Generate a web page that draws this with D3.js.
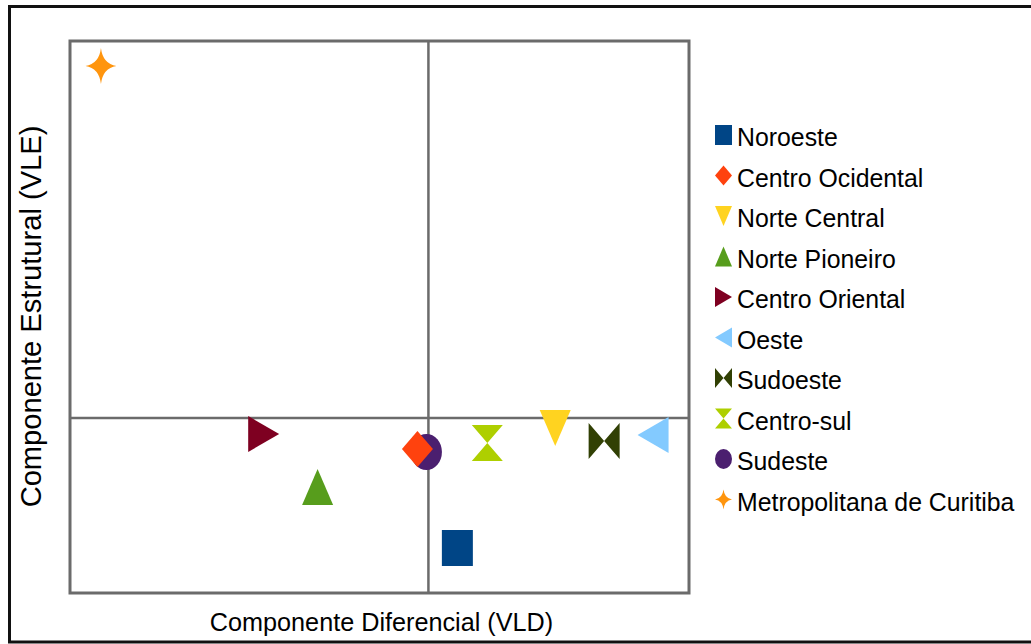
<!DOCTYPE html>
<html>
<head>
<meta charset="utf-8">
<script src="https://cdn.jsdelivr.net/npm/d3@7"></script>
<style>
  body { margin: 0; background: #fff; }
  svg { display: block; font-family: "Liberation Sans", Arial, sans-serif; }
</style>
</head>
<body>
<svg class="chart" width="1031" height="644"></svg>
<script>
// regions of Parana, in legend order
var regions = ["Noroeste", "Centro Ocidental", "Norte Central", "Norte Pioneiro", "Centro Oriental",
               "Oeste", "Sudoeste", "Centro-sul", "Sudeste", "Metropolitana de Curitiba"];
// componente diferencial (VLD) - x
var vld = [0.29, -0.11, 1.27, -1.11, -1.65, 2.25, 1.76, 0.59, -0.02, -3.28];
// componente estrutural (VLE) - y
var vle = [-1.30, -0.31, -0.10, -0.69, -0.16, -0.17, -0.23, -0.25, -0.34, 3.52];

// LibreOffice default palette + symbol for each series
var colors = ["#004586", "#ff420e", "#ffd320", "#579d1c", "#7e0021",
              "#83caff", "#314004", "#aecf00", "#4b1f6f", "#ff950e"];
var shapes = ["square", "diamond", "down", "up", "right", "left", "bowtie", "hourglass", "circle", "star"];

var svg = d3.select("svg.chart");

var plot = { left: 70, right: 689, top: 41, bottom: 593 };

var x = d3.scaleLinear().domain([-3.59, 2.61]).range([plot.left, plot.right]);
var y = d3.scaleLinear().domain([-1.75, 3.77]).range([plot.bottom, plot.top]);

// outer frame (right side runs off the picture)
svg.append("path")
  .attr("d", "M1031,6.5H9.5V642H1031")
  .attr("fill", "none").attr("stroke", "#111").attr("stroke-width", 3);

// plot frame
svg.append("rect")
  .attr("x", plot.left).attr("y", plot.top)
  .attr("width", plot.right - plot.left).attr("height", plot.bottom - plot.top)
  .attr("fill", "#fff").attr("stroke", "#6b6b6b").attr("stroke-width", 3);

// zero lines
svg.append("line")
  .attr("x1", x(0)).attr("x2", x(0))
  .attr("y1", plot.top).attr("y2", plot.bottom)
  .attr("stroke", "#6b6b6b").attr("stroke-width", 2.5);
svg.append("line")
  .attr("x1", plot.left).attr("x2", plot.right)
  .attr("y1", y(0)).attr("y2", y(0))
  .attr("stroke", "#6b6b6b").attr("stroke-width", 2.5);

function symbolPath(type, w, h) {
  var a = w / 2, b = h / 2;
  switch (type) {
    case "square": return "M" + -a + "," + -b + "H" + a + "V" + b + "H" + -a + "Z";
    case "diamond": return "M0," + -b + "L" + a + ",0L0," + b + "L" + -a + ",0Z";
    case "down": return "M" + -a + "," + -b + "L" + a + "," + -b + "L0," + b + "Z";
    case "up": return "M0," + -b + "L" + a + "," + b + "L" + -a + "," + b + "Z";
    case "right": return "M" + -a + "," + -b + "L" + a + ",0L" + -a + "," + b + "Z";
    case "left": return "M" + a + "," + -b + "L" + -a + ",0L" + a + "," + b + "Z";
    case "bowtie": return "M" + -a + "," + -b + "L0,0L" + a + "," + -b + "L" + a + "," + b + "L0,0L" + -a + "," + b + "Z";
    case "hourglass": return "M" + -a + "," + -b + "L" + a + "," + -b + "L0,0L" + a + "," + b + "L" + -a + "," + b + "L0,0Z";
    case "circle":
      return "M" + -a + ",0A" + a + "," + b + " 0 1,0 " + a + ",0A" + a + "," + b + " 0 1,0 " + -a + ",0Z";
    case "star":
      var ca = a * 0.12, cb = b * 0.12;
      return "M0," + -b +
        "Q" + ca + "," + -cb + " " + a + ",0" +
        "Q" + ca + "," + cb + " 0," + b +
        "Q" + -ca + "," + cb + " " + -a + ",0" +
        "Q" + -ca + "," + -cb + " 0," + -b + "Z";
  }
}

var points = regions.map(function(r, i) {
  return { name: r, vld: vld[i], vle: vle[i], color: colors[i], shape: shapes[i] };
});

// drawn in reverse so the first series ends up on top
svg.append("g").selectAll("path")
  .data(points.slice().reverse())
  .enter().append("path")
  .attr("transform", function(d) { return "translate(" + x(d.vld) + "," + y(d.vle) + ")"; })
  .attr("d", function(d) { return symbolPath(d.shape, 31, 36); })
  .attr("fill", function(d) { return d.color; });

// legend
var legend = svg.append("g").attr("transform", "translate(0,146)");
var item = legend.selectAll("g")
  .data(points)
  .enter().append("g")
  .attr("transform", function(d, i) { return "translate(0," + (i * 40.5) + ")"; });

item.append("path")
  .attr("transform", "translate(723.5,-11)")
  .attr("d", function(d) { return symbolPath(d.shape, 17, 20); })
  .attr("fill", function(d) { return d.color; });

item.append("text")
  .attr("x", 737).attr("y", 0)
  .attr("font-size", 26)
  .attr("fill", "#000")
  .text(function(d) { return d.name; })
  .each(function() {
    // source font is a bit narrower than Liberation Sans
    var len = this.getComputedTextLength();
    d3.select(this).attr("textLength", len * 0.955).attr("lengthAdjust", "spacingAndGlyphs");
  });

// axis titles
var xt = svg.append("text")
  .attr("x", 381.5).attr("y", 631)
  .attr("text-anchor", "middle")
  .attr("font-size", 26)
  .text("Componente Diferencial (VLD)");
xt.attr("textLength", xt.node().getComputedTextLength() * 0.97).attr("lengthAdjust", "spacingAndGlyphs");

var yt = svg.append("text")
  .attr("transform", "translate(41,316.5) rotate(-90)")
  .attr("text-anchor", "middle")
  .attr("font-size", 30)
  .text("Componente Estrutural (VLE)");
yt.attr("textLength", yt.node().getComputedTextLength() * 0.97).attr("lengthAdjust", "spacingAndGlyphs");
</script>
</body>
</html>
